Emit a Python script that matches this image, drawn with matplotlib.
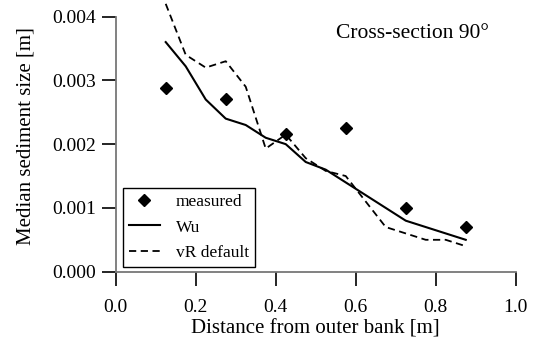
import matplotlib
matplotlib.use("Agg")
import matplotlib.pyplot as plt

plt.rcParams['font.family'] = ['Liberation Serif', 'DejaVu Serif']

# measured median grain size across the section
x_meas = [0.125, 0.275, 0.425, 0.575, 0.725, 0.875]
d_meas = [0.00288, 0.00270, 0.00216, 0.00225, 0.00100, 0.00070]

# Wu transport formula
x_wu = [0.125, 0.175, 0.225, 0.275, 0.325, 0.375, 0.425, 0.475, 0.525,
        0.575, 0.625, 0.675, 0.725, 0.800, 0.875]
d_wu = [0.00360, 0.00322, 0.00270, 0.00240, 0.00230, 0.00210, 0.00200,
        0.00172, 0.00160, 0.00140, 0.00120, 0.00100, 0.00080, 0.00065,
        0.00050]

# van Rijn with default settings
x_vr = [0.125, 0.175, 0.225, 0.275, 0.325, 0.375, 0.425, 0.475, 0.525,
        0.575, 0.675, 0.775, 0.825, 0.875]
d_vr = [0.00420, 0.00340, 0.00320, 0.00330, 0.00290, 0.00193, 0.00215,
        0.00178, 0.00158, 0.00150, 0.00070, 0.00050, 0.00050, 0.00040]

fig = plt.figure(figsize=(5.33, 3.49), dpi=100)
ax = fig.add_axes([0.2171, 0.2215, 0.7505, 0.7785])

ax.plot(x_meas, d_meas, 'D', color='black', markersize=6.5, label='measured')
ax.plot(x_wu, d_wu, '-', color='black', lw=1.5, label='Wu')
ax.plot(x_vr, d_vr, '--', color='black', lw=1.3, dashes=(4, 2.5), label='vR default')

ax.set_xlim(0, 1.0)
ax.set_ylim(0, 0.00426)
ax.set_xticks([0.0, 0.2, 0.4, 0.6, 0.8, 1.0])
ax.set_yticks([0.000, 0.001, 0.002, 0.003, 0.004])
ax.xaxis.set_major_formatter(matplotlib.ticker.FormatStrFormatter('%.1f'))
ax.yaxis.set_major_formatter(matplotlib.ticker.FormatStrFormatter('%.3f'))

for side in ['top', 'right']:
    ax.spines[side].set_visible(False)
for side in ['left', 'bottom']:
    ax.spines[side].set_color('#777777')
    ax.spines[side].set_linewidth(1.3)
ax.spines['left'].set_bounds(0, 0.004)
ax.tick_params(direction='out', length=10, width=1.2, color='black',
               labelsize=14)
ax.tick_params(axis='x', pad=10)
ax.tick_params(axis='y', pad=4)

ax.set_xlabel('Distance from outer bank [m]', fontsize=15, labelpad=2)
ax.set_ylabel('Median sediment size [m]', fontsize=15, labelpad=12)

ax.text(0.743, 0.877, 'Cross-section 90°', transform=ax.transAxes,
        ha='center', va='center', fontsize=15.5)

leg = ax.legend(loc='lower left', bbox_to_anchor=(0.0175, 0.016),
                borderaxespad=0, fontsize=12.5, fancybox=False, framealpha=1,
                edgecolor='black', handlelength=1.8, handletextpad=0.9,
                labelspacing=0.55, borderpad=0.35)
leg.get_frame().set_linewidth(1.0)

fig.savefig('out.png', dpi=100)
